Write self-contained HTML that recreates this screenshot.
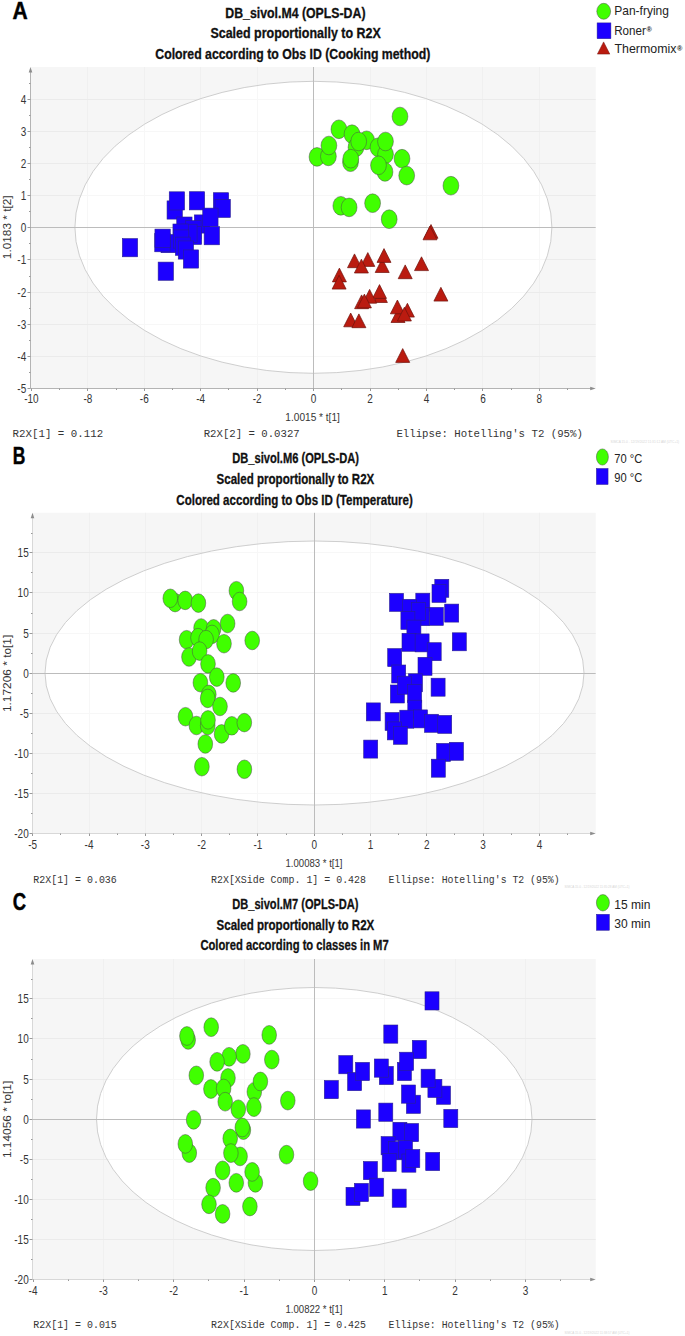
<!DOCTYPE html>
<html><head><meta charset="utf-8"><style>
html,body{margin:0;padding:0;background:#fff;}
svg{display:block;}

</style></head><body>
<svg width="685" height="1336" viewBox="0 0 685 1336">
<rect x="0" y="0" width="685" height="1336" fill="#fff"/>
<rect x="30.5" y="67" width="565.2" height="321.5" fill="#f6f6f6"/>
<line x1="87.5" y1="67" x2="87.5" y2="388.5" stroke="#f0f0f0" stroke-width="1"/>
<line x1="144.5" y1="67" x2="144.5" y2="388.5" stroke="#f0f0f0" stroke-width="1"/>
<line x1="200.5" y1="67" x2="200.5" y2="388.5" stroke="#f0f0f0" stroke-width="1"/>
<line x1="257.5" y1="67" x2="257.5" y2="388.5" stroke="#f0f0f0" stroke-width="1"/>
<line x1="370.5" y1="67" x2="370.5" y2="388.5" stroke="#f0f0f0" stroke-width="1"/>
<line x1="426.5" y1="67" x2="426.5" y2="388.5" stroke="#f0f0f0" stroke-width="1"/>
<line x1="482.5" y1="67" x2="482.5" y2="388.5" stroke="#f0f0f0" stroke-width="1"/>
<line x1="539.5" y1="67" x2="539.5" y2="388.5" stroke="#f0f0f0" stroke-width="1"/>
<line x1="30.5" y1="356.5" x2="595.7" y2="356.5" stroke="#ebebeb" stroke-width="1"/>
<line x1="30.5" y1="324.5" x2="595.7" y2="324.5" stroke="#ebebeb" stroke-width="1"/>
<line x1="30.5" y1="292.5" x2="595.7" y2="292.5" stroke="#ebebeb" stroke-width="1"/>
<line x1="30.5" y1="259.5" x2="595.7" y2="259.5" stroke="#ebebeb" stroke-width="1"/>
<line x1="30.5" y1="195.5" x2="595.7" y2="195.5" stroke="#ebebeb" stroke-width="1"/>
<line x1="30.5" y1="163.5" x2="595.7" y2="163.5" stroke="#ebebeb" stroke-width="1"/>
<line x1="30.5" y1="131.5" x2="595.7" y2="131.5" stroke="#ebebeb" stroke-width="1"/>
<line x1="30.5" y1="99.5" x2="595.7" y2="99.5" stroke="#ebebeb" stroke-width="1"/>
<clipPath id="cA"><ellipse cx="313.4" cy="227.3" rx="238.5" ry="146"/></clipPath>
<ellipse cx="313.4" cy="227.3" rx="238.5" ry="146" fill="#fff"/>
<g clip-path="url(#cA)">
<line x1="87.5" y1="67" x2="87.5" y2="388.5" stroke="#f7f7f7" stroke-width="1"/>
<line x1="144.5" y1="67" x2="144.5" y2="388.5" stroke="#f7f7f7" stroke-width="1"/>
<line x1="200.5" y1="67" x2="200.5" y2="388.5" stroke="#f7f7f7" stroke-width="1"/>
<line x1="257.5" y1="67" x2="257.5" y2="388.5" stroke="#f7f7f7" stroke-width="1"/>
<line x1="370.5" y1="67" x2="370.5" y2="388.5" stroke="#f7f7f7" stroke-width="1"/>
<line x1="426.5" y1="67" x2="426.5" y2="388.5" stroke="#f7f7f7" stroke-width="1"/>
<line x1="482.5" y1="67" x2="482.5" y2="388.5" stroke="#f7f7f7" stroke-width="1"/>
<line x1="539.5" y1="67" x2="539.5" y2="388.5" stroke="#f7f7f7" stroke-width="1"/>
<line x1="30.5" y1="356.5" x2="595.7" y2="356.5" stroke="#f7f7f7" stroke-width="1"/>
<line x1="30.5" y1="324.5" x2="595.7" y2="324.5" stroke="#f7f7f7" stroke-width="1"/>
<line x1="30.5" y1="292.5" x2="595.7" y2="292.5" stroke="#f7f7f7" stroke-width="1"/>
<line x1="30.5" y1="259.5" x2="595.7" y2="259.5" stroke="#f7f7f7" stroke-width="1"/>
<line x1="30.5" y1="195.5" x2="595.7" y2="195.5" stroke="#f7f7f7" stroke-width="1"/>
<line x1="30.5" y1="163.5" x2="595.7" y2="163.5" stroke="#f7f7f7" stroke-width="1"/>
<line x1="30.5" y1="131.5" x2="595.7" y2="131.5" stroke="#f7f7f7" stroke-width="1"/>
<line x1="30.5" y1="99.5" x2="595.7" y2="99.5" stroke="#f7f7f7" stroke-width="1"/>
</g>
<ellipse cx="313.4" cy="227.3" rx="238.5" ry="146" fill="none" stroke="#c8c8c8" stroke-width="0.9"/>
<line x1="313.5" y1="67" x2="313.5" y2="388.5" stroke="#bcbcbc" stroke-width="1"/>
<line x1="30.5" y1="227.5" x2="595.7" y2="227.5" stroke="#bcbcbc" stroke-width="1"/>
<rect x="122.35" y="238.60" width="15.3" height="18.2" fill="#1c00ff" stroke="#2a2090" stroke-width="0.6"/>
<rect x="167.05" y="200.90" width="15.3" height="18.2" fill="#1c00ff" stroke="#2a2090" stroke-width="0.6"/>
<rect x="169.25" y="191.80" width="15.3" height="18.2" fill="#1c00ff" stroke="#2a2090" stroke-width="0.6"/>
<rect x="189.35" y="191.70" width="15.3" height="18.2" fill="#1c00ff" stroke="#2a2090" stroke-width="0.6"/>
<rect x="213.35" y="192.70" width="15.3" height="18.2" fill="#1c00ff" stroke="#2a2090" stroke-width="0.6"/>
<rect x="215.05" y="199.30" width="15.3" height="18.2" fill="#1c00ff" stroke="#2a2090" stroke-width="0.6"/>
<rect x="194.35" y="214.90" width="15.3" height="18.2" fill="#1c00ff" stroke="#2a2090" stroke-width="0.6"/>
<rect x="202.75" y="208.10" width="15.3" height="18.2" fill="#1c00ff" stroke="#2a2090" stroke-width="0.6"/>
<rect x="176.75" y="217.00" width="15.3" height="18.2" fill="#1c00ff" stroke="#2a2090" stroke-width="0.6"/>
<rect x="185.75" y="220.60" width="15.3" height="18.2" fill="#1c00ff" stroke="#2a2090" stroke-width="0.6"/>
<rect x="186.35" y="226.30" width="15.3" height="18.2" fill="#1c00ff" stroke="#2a2090" stroke-width="0.6"/>
<rect x="181.75" y="224.20" width="15.3" height="18.2" fill="#1c00ff" stroke="#2a2090" stroke-width="0.6"/>
<rect x="172.95" y="224.00" width="15.3" height="18.2" fill="#1c00ff" stroke="#2a2090" stroke-width="0.6"/>
<rect x="204.15" y="226.60" width="15.3" height="18.2" fill="#1c00ff" stroke="#2a2090" stroke-width="0.6"/>
<rect x="161.05" y="234.50" width="15.3" height="18.2" fill="#1c00ff" stroke="#2a2090" stroke-width="0.6"/>
<rect x="154.75" y="233.60" width="15.3" height="18.2" fill="#1c00ff" stroke="#2a2090" stroke-width="0.6"/>
<rect x="154.95" y="229.10" width="15.3" height="18.2" fill="#1c00ff" stroke="#2a2090" stroke-width="0.6"/>
<rect x="173.55" y="229.90" width="15.3" height="18.2" fill="#1c00ff" stroke="#2a2090" stroke-width="0.6"/>
<rect x="175.35" y="237.10" width="15.3" height="18.2" fill="#1c00ff" stroke="#2a2090" stroke-width="0.6"/>
<rect x="178.25" y="240.90" width="15.3" height="18.2" fill="#1c00ff" stroke="#2a2090" stroke-width="0.6"/>
<rect x="183.35" y="249.90" width="15.3" height="18.2" fill="#1c00ff" stroke="#2a2090" stroke-width="0.6"/>
<rect x="158.15" y="262.10" width="15.3" height="18.2" fill="#1c00ff" stroke="#2a2090" stroke-width="0.6"/>
<ellipse cx="400" cy="116.5" rx="7.9" ry="9.35" fill="#40ff00" stroke="#4a4a4a" stroke-width="0.5"/>
<ellipse cx="338.9" cy="129.3" rx="7.9" ry="9.35" fill="#40ff00" stroke="#4a4a4a" stroke-width="0.5"/>
<ellipse cx="352" cy="134.2" rx="7.9" ry="9.35" fill="#40ff00" stroke="#4a4a4a" stroke-width="0.5"/>
<ellipse cx="356" cy="147.3" rx="7.9" ry="9.35" fill="#40ff00" stroke="#4a4a4a" stroke-width="0.5"/>
<ellipse cx="366.6" cy="140.3" rx="7.9" ry="9.35" fill="#40ff00" stroke="#4a4a4a" stroke-width="0.5"/>
<ellipse cx="358.7" cy="141.5" rx="7.9" ry="9.35" fill="#40ff00" stroke="#4a4a4a" stroke-width="0.5"/>
<ellipse cx="378" cy="147.3" rx="7.9" ry="9.35" fill="#40ff00" stroke="#4a4a4a" stroke-width="0.5"/>
<ellipse cx="385.5" cy="154.3" rx="7.9" ry="9.35" fill="#40ff00" stroke="#4a4a4a" stroke-width="0.5"/>
<ellipse cx="385.5" cy="141.5" rx="7.9" ry="9.35" fill="#40ff00" stroke="#4a4a4a" stroke-width="0.5"/>
<ellipse cx="317" cy="156.9" rx="7.9" ry="9.35" fill="#40ff00" stroke="#4a4a4a" stroke-width="0.5"/>
<ellipse cx="328.4" cy="156.4" rx="7.9" ry="9.35" fill="#40ff00" stroke="#4a4a4a" stroke-width="0.5"/>
<ellipse cx="328.9" cy="145.5" rx="7.9" ry="9.35" fill="#40ff00" stroke="#4a4a4a" stroke-width="0.5"/>
<ellipse cx="350.5" cy="162.2" rx="7.9" ry="9.35" fill="#40ff00" stroke="#4a4a4a" stroke-width="0.5"/>
<ellipse cx="350.8" cy="158.7" rx="7.9" ry="9.35" fill="#40ff00" stroke="#4a4a4a" stroke-width="0.5"/>
<ellipse cx="385" cy="171.9" rx="7.9" ry="9.35" fill="#40ff00" stroke="#4a4a4a" stroke-width="0.5"/>
<ellipse cx="378.5" cy="165.3" rx="7.9" ry="9.35" fill="#40ff00" stroke="#4a4a4a" stroke-width="0.5"/>
<ellipse cx="402" cy="158.7" rx="7.9" ry="9.35" fill="#40ff00" stroke="#4a4a4a" stroke-width="0.5"/>
<ellipse cx="406.7" cy="175.6" rx="7.9" ry="9.35" fill="#40ff00" stroke="#4a4a4a" stroke-width="0.5"/>
<ellipse cx="450.9" cy="185.7" rx="7.9" ry="9.35" fill="#40ff00" stroke="#4a4a4a" stroke-width="0.5"/>
<ellipse cx="340.8" cy="205.8" rx="7.9" ry="9.35" fill="#40ff00" stroke="#4a4a4a" stroke-width="0.5"/>
<ellipse cx="349.1" cy="207.4" rx="7.9" ry="9.35" fill="#40ff00" stroke="#4a4a4a" stroke-width="0.5"/>
<ellipse cx="372.6" cy="203.2" rx="7.9" ry="9.35" fill="#40ff00" stroke="#4a4a4a" stroke-width="0.5"/>
<ellipse cx="389.2" cy="219.2" rx="7.9" ry="9.35" fill="#40ff00" stroke="#4a4a4a" stroke-width="0.5"/>
<path d="M431.00,224.50 L438.00,238.30 L424.00,238.30 Z" fill="#ba1b10" stroke="#70120c" stroke-width="0.7"/>
<path d="M430.00,226.00 L437.00,239.80 L423.00,239.80 Z" fill="#ba1b10" stroke="#70120c" stroke-width="0.7"/>
<path d="M354.50,253.90 L361.50,267.70 L347.50,267.70 Z" fill="#ba1b10" stroke="#70120c" stroke-width="0.7"/>
<path d="M367.80,252.60 L374.80,266.40 L360.80,266.40 Z" fill="#ba1b10" stroke="#70120c" stroke-width="0.7"/>
<path d="M361.40,259.20 L368.40,273.00 L354.40,273.00 Z" fill="#ba1b10" stroke="#70120c" stroke-width="0.7"/>
<path d="M382.20,258.70 L389.20,272.50 L375.20,272.50 Z" fill="#ba1b10" stroke="#70120c" stroke-width="0.7"/>
<path d="M384.00,248.60 L391.00,262.40 L377.00,262.40 Z" fill="#ba1b10" stroke="#70120c" stroke-width="0.7"/>
<path d="M421.50,256.80 L428.50,270.60 L414.50,270.60 Z" fill="#ba1b10" stroke="#70120c" stroke-width="0.7"/>
<path d="M405.20,264.90 L412.20,278.70 L398.20,278.70 Z" fill="#ba1b10" stroke="#70120c" stroke-width="0.7"/>
<path d="M339.40,268.10 L346.40,281.90 L332.40,281.90 Z" fill="#ba1b10" stroke="#70120c" stroke-width="0.7"/>
<path d="M339.10,275.30 L346.10,289.10 L332.10,289.10 Z" fill="#ba1b10" stroke="#70120c" stroke-width="0.7"/>
<path d="M380.40,288.70 L387.40,302.50 L373.40,302.50 Z" fill="#ba1b10" stroke="#70120c" stroke-width="0.7"/>
<path d="M379.50,284.60 L386.50,298.40 L372.50,298.40 Z" fill="#ba1b10" stroke="#70120c" stroke-width="0.7"/>
<path d="M369.60,289.40 L376.60,303.20 L362.60,303.20 Z" fill="#ba1b10" stroke="#70120c" stroke-width="0.7"/>
<path d="M361.60,294.90 L368.60,308.70 L354.60,308.70 Z" fill="#ba1b10" stroke="#70120c" stroke-width="0.7"/>
<path d="M364.40,294.10 L371.40,307.90 L357.40,307.90 Z" fill="#ba1b10" stroke="#70120c" stroke-width="0.7"/>
<path d="M440.90,287.30 L447.90,301.10 L433.90,301.10 Z" fill="#ba1b10" stroke="#70120c" stroke-width="0.7"/>
<path d="M398.00,308.70 L405.00,322.50 L391.00,322.50 Z" fill="#ba1b10" stroke="#70120c" stroke-width="0.7"/>
<path d="M397.40,300.00 L404.40,313.80 L390.40,313.80 Z" fill="#ba1b10" stroke="#70120c" stroke-width="0.7"/>
<path d="M407.40,303.30 L414.40,317.10 L400.40,317.10 Z" fill="#ba1b10" stroke="#70120c" stroke-width="0.7"/>
<path d="M404.40,307.20 L411.40,321.00 L397.40,321.00 Z" fill="#ba1b10" stroke="#70120c" stroke-width="0.7"/>
<path d="M350.70,313.00 L357.70,326.80 L343.70,326.80 Z" fill="#ba1b10" stroke="#70120c" stroke-width="0.7"/>
<path d="M358.90,313.90 L365.90,327.70 L351.90,327.70 Z" fill="#ba1b10" stroke="#70120c" stroke-width="0.7"/>
<path d="M402.70,348.60 L409.70,362.40 L395.70,362.40 Z" fill="#ba1b10" stroke="#70120c" stroke-width="0.7"/>
<line x1="30.5" y1="388.5" x2="591.7" y2="388.5" stroke="#b4b4b4" stroke-width="1"/>
<path d="M595.7,388.5 L590.2,386.7 L590.2,390.3 Z" fill="#8c8c8c"/>
<line x1="30.5" y1="388.5" x2="30.5" y2="71" stroke="#b4b4b4" stroke-width="1"/>
<path d="M30.5,67 L28.7,72.5 L32.3,72.5 Z" fill="#8c8c8c"/>
<line x1="31.5" y1="388.5" x2="31.5" y2="391.0" stroke="#999999" stroke-width="1"/>
<line x1="87.5" y1="388.5" x2="87.5" y2="391.0" stroke="#999999" stroke-width="1"/>
<line x1="144.5" y1="388.5" x2="144.5" y2="391.0" stroke="#999999" stroke-width="1"/>
<line x1="200.5" y1="388.5" x2="200.5" y2="391.0" stroke="#999999" stroke-width="1"/>
<line x1="257.5" y1="388.5" x2="257.5" y2="391.0" stroke="#999999" stroke-width="1"/>
<line x1="313.5" y1="388.5" x2="313.5" y2="391.0" stroke="#999999" stroke-width="1"/>
<line x1="370.5" y1="388.5" x2="370.5" y2="391.0" stroke="#999999" stroke-width="1"/>
<line x1="426.5" y1="388.5" x2="426.5" y2="391.0" stroke="#999999" stroke-width="1"/>
<line x1="482.5" y1="388.5" x2="482.5" y2="391.0" stroke="#999999" stroke-width="1"/>
<line x1="539.5" y1="388.5" x2="539.5" y2="391.0" stroke="#999999" stroke-width="1"/>
<line x1="59.5" y1="388.5" x2="59.5" y2="390.0" stroke="#999999" stroke-width="1"/>
<line x1="116.5" y1="388.5" x2="116.5" y2="390.0" stroke="#999999" stroke-width="1"/>
<line x1="172.5" y1="388.5" x2="172.5" y2="390.0" stroke="#999999" stroke-width="1"/>
<line x1="228.5" y1="388.5" x2="228.5" y2="390.0" stroke="#999999" stroke-width="1"/>
<line x1="285.5" y1="388.5" x2="285.5" y2="390.0" stroke="#999999" stroke-width="1"/>
<line x1="341.5" y1="388.5" x2="341.5" y2="390.0" stroke="#999999" stroke-width="1"/>
<line x1="398.5" y1="388.5" x2="398.5" y2="390.0" stroke="#999999" stroke-width="1"/>
<line x1="454.5" y1="388.5" x2="454.5" y2="390.0" stroke="#999999" stroke-width="1"/>
<line x1="511.5" y1="388.5" x2="511.5" y2="390.0" stroke="#999999" stroke-width="1"/>
<line x1="567.5" y1="388.5" x2="567.5" y2="390.0" stroke="#999999" stroke-width="1"/>
<line x1="27.5" y1="388.5" x2="30.5" y2="388.5" stroke="#999999" stroke-width="1"/>
<line x1="27.5" y1="356.5" x2="30.5" y2="356.5" stroke="#999999" stroke-width="1"/>
<line x1="27.5" y1="324.5" x2="30.5" y2="324.5" stroke="#999999" stroke-width="1"/>
<line x1="27.5" y1="292.5" x2="30.5" y2="292.5" stroke="#999999" stroke-width="1"/>
<line x1="27.5" y1="259.5" x2="30.5" y2="259.5" stroke="#999999" stroke-width="1"/>
<line x1="27.5" y1="227.5" x2="30.5" y2="227.5" stroke="#999999" stroke-width="1"/>
<line x1="27.5" y1="195.5" x2="30.5" y2="195.5" stroke="#999999" stroke-width="1"/>
<line x1="27.5" y1="163.5" x2="30.5" y2="163.5" stroke="#999999" stroke-width="1"/>
<line x1="27.5" y1="131.5" x2="30.5" y2="131.5" stroke="#999999" stroke-width="1"/>
<line x1="27.5" y1="99.5" x2="30.5" y2="99.5" stroke="#999999" stroke-width="1"/>
<line x1="29.0" y1="372.5" x2="30.5" y2="372.5" stroke="#999999" stroke-width="1"/>
<line x1="29.0" y1="340.5" x2="30.5" y2="340.5" stroke="#999999" stroke-width="1"/>
<line x1="29.0" y1="308.5" x2="30.5" y2="308.5" stroke="#999999" stroke-width="1"/>
<line x1="29.0" y1="276.5" x2="30.5" y2="276.5" stroke="#999999" stroke-width="1"/>
<line x1="29.0" y1="243.5" x2="30.5" y2="243.5" stroke="#999999" stroke-width="1"/>
<line x1="29.0" y1="211.5" x2="30.5" y2="211.5" stroke="#999999" stroke-width="1"/>
<line x1="29.0" y1="179.5" x2="30.5" y2="179.5" stroke="#999999" stroke-width="1"/>
<line x1="29.0" y1="147.5" x2="30.5" y2="147.5" stroke="#999999" stroke-width="1"/>
<line x1="29.0" y1="115.5" x2="30.5" y2="115.5" stroke="#999999" stroke-width="1"/>
<line x1="29.0" y1="83.5" x2="30.5" y2="83.5" stroke="#999999" stroke-width="1"/>
<text transform="translate(31.40,403.4) scale(1,1.2)" x="0" y="0" font-family="Liberation Sans" font-size="10" font-weight="normal" text-anchor="middle" fill="#353535">-10</text>
<text transform="translate(87.84,403.4) scale(1,1.2)" x="0" y="0" font-family="Liberation Sans" font-size="10" font-weight="normal" text-anchor="middle" fill="#353535">-8</text>
<text transform="translate(144.28,403.4) scale(1,1.2)" x="0" y="0" font-family="Liberation Sans" font-size="10" font-weight="normal" text-anchor="middle" fill="#353535">-6</text>
<text transform="translate(200.72,403.4) scale(1,1.2)" x="0" y="0" font-family="Liberation Sans" font-size="10" font-weight="normal" text-anchor="middle" fill="#353535">-4</text>
<text transform="translate(257.16,403.4) scale(1,1.2)" x="0" y="0" font-family="Liberation Sans" font-size="10" font-weight="normal" text-anchor="middle" fill="#353535">-2</text>
<text transform="translate(313.60,403.4) scale(1,1.2)" x="0" y="0" font-family="Liberation Sans" font-size="10" font-weight="normal" text-anchor="middle" fill="#353535">0</text>
<text transform="translate(370.04,403.4) scale(1,1.2)" x="0" y="0" font-family="Liberation Sans" font-size="10" font-weight="normal" text-anchor="middle" fill="#353535">2</text>
<text transform="translate(426.48,403.4) scale(1,1.2)" x="0" y="0" font-family="Liberation Sans" font-size="10" font-weight="normal" text-anchor="middle" fill="#353535">4</text>
<text transform="translate(482.92,403.4) scale(1,1.2)" x="0" y="0" font-family="Liberation Sans" font-size="10" font-weight="normal" text-anchor="middle" fill="#353535">6</text>
<text transform="translate(539.36,403.4) scale(1,1.2)" x="0" y="0" font-family="Liberation Sans" font-size="10" font-weight="normal" text-anchor="middle" fill="#353535">8</text>
<text transform="translate(26.2,392.80) scale(1,1.2)" x="0" y="0" font-family="Liberation Sans" font-size="10" font-weight="normal" text-anchor="end" fill="#353535">-5</text>
<text transform="translate(26.2,360.80) scale(1,1.2)" x="0" y="0" font-family="Liberation Sans" font-size="10" font-weight="normal" text-anchor="end" fill="#353535">-4</text>
<text transform="translate(26.2,328.80) scale(1,1.2)" x="0" y="0" font-family="Liberation Sans" font-size="10" font-weight="normal" text-anchor="end" fill="#353535">-3</text>
<text transform="translate(26.2,296.80) scale(1,1.2)" x="0" y="0" font-family="Liberation Sans" font-size="10" font-weight="normal" text-anchor="end" fill="#353535">-2</text>
<text transform="translate(26.2,263.80) scale(1,1.2)" x="0" y="0" font-family="Liberation Sans" font-size="10" font-weight="normal" text-anchor="end" fill="#353535">-1</text>
<text transform="translate(26.2,231.80) scale(1,1.2)" x="0" y="0" font-family="Liberation Sans" font-size="10" font-weight="normal" text-anchor="end" fill="#353535">0</text>
<text transform="translate(26.2,199.80) scale(1,1.2)" x="0" y="0" font-family="Liberation Sans" font-size="10" font-weight="normal" text-anchor="end" fill="#353535">1</text>
<text transform="translate(26.2,167.80) scale(1,1.2)" x="0" y="0" font-family="Liberation Sans" font-size="10" font-weight="normal" text-anchor="end" fill="#353535">2</text>
<text transform="translate(26.2,135.80) scale(1,1.2)" x="0" y="0" font-family="Liberation Sans" font-size="10" font-weight="normal" text-anchor="end" fill="#353535">3</text>
<text transform="translate(26.2,103.80) scale(1,1.2)" x="0" y="0" font-family="Liberation Sans" font-size="10" font-weight="normal" text-anchor="end" fill="#353535">4</text>
<rect x="32.5" y="512.8" width="563.2" height="320.70000000000005" fill="#f6f6f6"/>
<line x1="89.5" y1="512.8" x2="89.5" y2="833.5" stroke="#f0f0f0" stroke-width="1"/>
<line x1="145.5" y1="512.8" x2="145.5" y2="833.5" stroke="#f0f0f0" stroke-width="1"/>
<line x1="201.5" y1="512.8" x2="201.5" y2="833.5" stroke="#f0f0f0" stroke-width="1"/>
<line x1="257.5" y1="512.8" x2="257.5" y2="833.5" stroke="#f0f0f0" stroke-width="1"/>
<line x1="370.5" y1="512.8" x2="370.5" y2="833.5" stroke="#f0f0f0" stroke-width="1"/>
<line x1="426.5" y1="512.8" x2="426.5" y2="833.5" stroke="#f0f0f0" stroke-width="1"/>
<line x1="483.5" y1="512.8" x2="483.5" y2="833.5" stroke="#f0f0f0" stroke-width="1"/>
<line x1="539.5" y1="512.8" x2="539.5" y2="833.5" stroke="#f0f0f0" stroke-width="1"/>
<line x1="32.5" y1="793.5" x2="595.7" y2="793.5" stroke="#ebebeb" stroke-width="1"/>
<line x1="32.5" y1="753.5" x2="595.7" y2="753.5" stroke="#ebebeb" stroke-width="1"/>
<line x1="32.5" y1="713.5" x2="595.7" y2="713.5" stroke="#ebebeb" stroke-width="1"/>
<line x1="32.5" y1="633.5" x2="595.7" y2="633.5" stroke="#ebebeb" stroke-width="1"/>
<line x1="32.5" y1="592.5" x2="595.7" y2="592.5" stroke="#ebebeb" stroke-width="1"/>
<line x1="32.5" y1="552.5" x2="595.7" y2="552.5" stroke="#ebebeb" stroke-width="1"/>
<clipPath id="cB"><ellipse cx="314.5" cy="673" rx="269.5" ry="132"/></clipPath>
<ellipse cx="314.5" cy="673" rx="269.5" ry="132" fill="#fff"/>
<g clip-path="url(#cB)">
<line x1="89.5" y1="512.8" x2="89.5" y2="833.5" stroke="#f7f7f7" stroke-width="1"/>
<line x1="145.5" y1="512.8" x2="145.5" y2="833.5" stroke="#f7f7f7" stroke-width="1"/>
<line x1="201.5" y1="512.8" x2="201.5" y2="833.5" stroke="#f7f7f7" stroke-width="1"/>
<line x1="257.5" y1="512.8" x2="257.5" y2="833.5" stroke="#f7f7f7" stroke-width="1"/>
<line x1="370.5" y1="512.8" x2="370.5" y2="833.5" stroke="#f7f7f7" stroke-width="1"/>
<line x1="426.5" y1="512.8" x2="426.5" y2="833.5" stroke="#f7f7f7" stroke-width="1"/>
<line x1="483.5" y1="512.8" x2="483.5" y2="833.5" stroke="#f7f7f7" stroke-width="1"/>
<line x1="539.5" y1="512.8" x2="539.5" y2="833.5" stroke="#f7f7f7" stroke-width="1"/>
<line x1="32.5" y1="793.5" x2="595.7" y2="793.5" stroke="#f7f7f7" stroke-width="1"/>
<line x1="32.5" y1="753.5" x2="595.7" y2="753.5" stroke="#f7f7f7" stroke-width="1"/>
<line x1="32.5" y1="713.5" x2="595.7" y2="713.5" stroke="#f7f7f7" stroke-width="1"/>
<line x1="32.5" y1="633.5" x2="595.7" y2="633.5" stroke="#f7f7f7" stroke-width="1"/>
<line x1="32.5" y1="592.5" x2="595.7" y2="592.5" stroke="#f7f7f7" stroke-width="1"/>
<line x1="32.5" y1="552.5" x2="595.7" y2="552.5" stroke="#f7f7f7" stroke-width="1"/>
</g>
<ellipse cx="314.5" cy="673" rx="269.5" ry="132" fill="none" stroke="#c8c8c8" stroke-width="0.9"/>
<line x1="314.5" y1="512.8" x2="314.5" y2="833.5" stroke="#bcbcbc" stroke-width="1"/>
<line x1="32.5" y1="673.5" x2="595.7" y2="673.5" stroke="#bcbcbc" stroke-width="1"/>
<ellipse cx="175.1" cy="602.6" rx="7.35" ry="9.3" fill="#40ff00" stroke="#4a4a4a" stroke-width="0.5"/>
<ellipse cx="170.3" cy="598.3" rx="7.35" ry="9.3" fill="#40ff00" stroke="#4a4a4a" stroke-width="0.5"/>
<ellipse cx="185.2" cy="600.4" rx="7.35" ry="9.3" fill="#40ff00" stroke="#4a4a4a" stroke-width="0.5"/>
<ellipse cx="198.4" cy="603.1" rx="7.35" ry="9.3" fill="#40ff00" stroke="#4a4a4a" stroke-width="0.5"/>
<ellipse cx="236.4" cy="590.7" rx="7.35" ry="9.3" fill="#40ff00" stroke="#4a4a4a" stroke-width="0.5"/>
<ellipse cx="239.6" cy="601.5" rx="7.35" ry="9.3" fill="#40ff00" stroke="#4a4a4a" stroke-width="0.5"/>
<ellipse cx="227.6" cy="623.5" rx="7.35" ry="9.3" fill="#40ff00" stroke="#4a4a4a" stroke-width="0.5"/>
<ellipse cx="252.2" cy="640.5" rx="7.35" ry="9.3" fill="#40ff00" stroke="#4a4a4a" stroke-width="0.5"/>
<ellipse cx="201.1" cy="628" rx="7.35" ry="9.3" fill="#40ff00" stroke="#4a4a4a" stroke-width="0.5"/>
<ellipse cx="213.6" cy="628.8" rx="7.35" ry="9.3" fill="#40ff00" stroke="#4a4a4a" stroke-width="0.5"/>
<ellipse cx="212" cy="634.4" rx="7.35" ry="9.3" fill="#40ff00" stroke="#4a4a4a" stroke-width="0.5"/>
<ellipse cx="186.6" cy="639.7" rx="7.35" ry="9.3" fill="#40ff00" stroke="#4a4a4a" stroke-width="0.5"/>
<ellipse cx="198" cy="637.6" rx="7.35" ry="9.3" fill="#40ff00" stroke="#4a4a4a" stroke-width="0.5"/>
<ellipse cx="206.1" cy="639.6" rx="7.35" ry="9.3" fill="#40ff00" stroke="#4a4a4a" stroke-width="0.5"/>
<ellipse cx="224" cy="643.7" rx="7.35" ry="9.3" fill="#40ff00" stroke="#4a4a4a" stroke-width="0.5"/>
<ellipse cx="189" cy="657" rx="7.35" ry="9.3" fill="#40ff00" stroke="#4a4a4a" stroke-width="0.5"/>
<ellipse cx="199.6" cy="651.1" rx="7.35" ry="9.3" fill="#40ff00" stroke="#4a4a4a" stroke-width="0.5"/>
<ellipse cx="208" cy="663.9" rx="7.35" ry="9.3" fill="#40ff00" stroke="#4a4a4a" stroke-width="0.5"/>
<ellipse cx="216.8" cy="677.1" rx="7.35" ry="9.3" fill="#40ff00" stroke="#4a4a4a" stroke-width="0.5"/>
<ellipse cx="200.4" cy="682.7" rx="7.35" ry="9.3" fill="#40ff00" stroke="#4a4a4a" stroke-width="0.5"/>
<ellipse cx="233.2" cy="682.9" rx="7.35" ry="9.3" fill="#40ff00" stroke="#4a4a4a" stroke-width="0.5"/>
<ellipse cx="208.8" cy="694.4" rx="7.35" ry="9.3" fill="#40ff00" stroke="#4a4a4a" stroke-width="0.5"/>
<ellipse cx="207.7" cy="698.4" rx="7.35" ry="9.3" fill="#40ff00" stroke="#4a4a4a" stroke-width="0.5"/>
<ellipse cx="220" cy="706.5" rx="7.35" ry="9.3" fill="#40ff00" stroke="#4a4a4a" stroke-width="0.5"/>
<ellipse cx="185.5" cy="716.7" rx="7.35" ry="9.3" fill="#40ff00" stroke="#4a4a4a" stroke-width="0.5"/>
<ellipse cx="196.4" cy="725.5" rx="7.35" ry="9.3" fill="#40ff00" stroke="#4a4a4a" stroke-width="0.5"/>
<ellipse cx="207.7" cy="725.5" rx="7.35" ry="9.3" fill="#40ff00" stroke="#4a4a4a" stroke-width="0.5"/>
<ellipse cx="208" cy="719.9" rx="7.35" ry="9.3" fill="#40ff00" stroke="#4a4a4a" stroke-width="0.5"/>
<ellipse cx="221.6" cy="733.9" rx="7.35" ry="9.3" fill="#40ff00" stroke="#4a4a4a" stroke-width="0.5"/>
<ellipse cx="231.8" cy="725.8" rx="7.35" ry="9.3" fill="#40ff00" stroke="#4a4a4a" stroke-width="0.5"/>
<ellipse cx="244.3" cy="722.6" rx="7.35" ry="9.3" fill="#40ff00" stroke="#4a4a4a" stroke-width="0.5"/>
<ellipse cx="205.3" cy="744" rx="7.35" ry="9.3" fill="#40ff00" stroke="#4a4a4a" stroke-width="0.5"/>
<ellipse cx="201.9" cy="766.7" rx="7.35" ry="9.3" fill="#40ff00" stroke="#4a4a4a" stroke-width="0.5"/>
<ellipse cx="244.4" cy="769.3" rx="7.35" ry="9.3" fill="#40ff00" stroke="#4a4a4a" stroke-width="0.5"/>
<rect x="434.80" y="579.30" width="14.0" height="18.0" fill="#1c00ff" stroke="#2a2090" stroke-width="0.6"/>
<rect x="432.00" y="584.40" width="14.0" height="18.0" fill="#1c00ff" stroke="#2a2090" stroke-width="0.6"/>
<rect x="389.50" y="593.40" width="14.0" height="18.0" fill="#1c00ff" stroke="#2a2090" stroke-width="0.6"/>
<rect x="415.80" y="593.20" width="14.0" height="18.0" fill="#1c00ff" stroke="#2a2090" stroke-width="0.6"/>
<rect x="402.60" y="599.30" width="14.0" height="18.0" fill="#1c00ff" stroke="#2a2090" stroke-width="0.6"/>
<rect x="415.20" y="607.70" width="14.0" height="18.0" fill="#1c00ff" stroke="#2a2090" stroke-width="0.6"/>
<rect x="411.40" y="602.30" width="14.0" height="18.0" fill="#1c00ff" stroke="#2a2090" stroke-width="0.6"/>
<rect x="429.30" y="607.40" width="14.0" height="18.0" fill="#1c00ff" stroke="#2a2090" stroke-width="0.6"/>
<rect x="444.70" y="604.10" width="14.0" height="18.0" fill="#1c00ff" stroke="#2a2090" stroke-width="0.6"/>
<rect x="400.90" y="611.40" width="14.0" height="18.0" fill="#1c00ff" stroke="#2a2090" stroke-width="0.6"/>
<rect x="406.90" y="620.10" width="14.0" height="18.0" fill="#1c00ff" stroke="#2a2090" stroke-width="0.6"/>
<rect x="402.00" y="633.30" width="14.0" height="18.0" fill="#1c00ff" stroke="#2a2090" stroke-width="0.6"/>
<rect x="415.10" y="633.90" width="14.0" height="18.0" fill="#1c00ff" stroke="#2a2090" stroke-width="0.6"/>
<rect x="427.20" y="642.70" width="14.0" height="18.0" fill="#1c00ff" stroke="#2a2090" stroke-width="0.6"/>
<rect x="452.30" y="632.80" width="14.0" height="18.0" fill="#1c00ff" stroke="#2a2090" stroke-width="0.6"/>
<rect x="387.70" y="648.60" width="14.0" height="18.0" fill="#1c00ff" stroke="#2a2090" stroke-width="0.6"/>
<rect x="418.00" y="657.30" width="14.0" height="18.0" fill="#1c00ff" stroke="#2a2090" stroke-width="0.6"/>
<rect x="391.70" y="665.00" width="14.0" height="18.0" fill="#1c00ff" stroke="#2a2090" stroke-width="0.6"/>
<rect x="408.50" y="673.80" width="14.0" height="18.0" fill="#1c00ff" stroke="#2a2090" stroke-width="0.6"/>
<rect x="390.40" y="685.00" width="14.0" height="18.0" fill="#1c00ff" stroke="#2a2090" stroke-width="0.6"/>
<rect x="397.50" y="676.20" width="14.0" height="18.0" fill="#1c00ff" stroke="#2a2090" stroke-width="0.6"/>
<rect x="431.10" y="678.20" width="14.0" height="18.0" fill="#1c00ff" stroke="#2a2090" stroke-width="0.6"/>
<rect x="407.60" y="684.60" width="14.0" height="18.0" fill="#1c00ff" stroke="#2a2090" stroke-width="0.6"/>
<rect x="407.80" y="700.20" width="14.0" height="18.0" fill="#1c00ff" stroke="#2a2090" stroke-width="0.6"/>
<rect x="366.30" y="702.90" width="14.0" height="18.0" fill="#1c00ff" stroke="#2a2090" stroke-width="0.6"/>
<rect x="385.10" y="712.50" width="14.0" height="18.0" fill="#1c00ff" stroke="#2a2090" stroke-width="0.6"/>
<rect x="399.80" y="710.20" width="14.0" height="18.0" fill="#1c00ff" stroke="#2a2090" stroke-width="0.6"/>
<rect x="413.50" y="709.90" width="14.0" height="18.0" fill="#1c00ff" stroke="#2a2090" stroke-width="0.6"/>
<rect x="424.50" y="714.30" width="14.0" height="18.0" fill="#1c00ff" stroke="#2a2090" stroke-width="0.6"/>
<rect x="437.70" y="715.40" width="14.0" height="18.0" fill="#1c00ff" stroke="#2a2090" stroke-width="0.6"/>
<rect x="387.30" y="721.90" width="14.0" height="18.0" fill="#1c00ff" stroke="#2a2090" stroke-width="0.6"/>
<rect x="393.40" y="726.30" width="14.0" height="18.0" fill="#1c00ff" stroke="#2a2090" stroke-width="0.6"/>
<rect x="363.70" y="740.10" width="14.0" height="18.0" fill="#1c00ff" stroke="#2a2090" stroke-width="0.6"/>
<rect x="436.60" y="743.40" width="14.0" height="18.0" fill="#1c00ff" stroke="#2a2090" stroke-width="0.6"/>
<rect x="449.50" y="742.30" width="14.0" height="18.0" fill="#1c00ff" stroke="#2a2090" stroke-width="0.6"/>
<rect x="431.30" y="759.20" width="14.0" height="18.0" fill="#1c00ff" stroke="#2a2090" stroke-width="0.6"/>
<line x1="32.5" y1="833.5" x2="591.7" y2="833.5" stroke="#d8d8d8" stroke-width="1"/>
<path d="M595.7,833.5 L590.2,831.7 L590.2,835.3 Z" fill="#8c8c8c"/>
<line x1="32.5" y1="833.5" x2="32.5" y2="516.8" stroke="#d8d8d8" stroke-width="1"/>
<path d="M32.5,512.8 L30.7,518.3 L34.3,518.3 Z" fill="#8c8c8c"/>
<line x1="32.5" y1="833.5" x2="32.5" y2="836.0" stroke="#999999" stroke-width="1"/>
<line x1="89.5" y1="833.5" x2="89.5" y2="836.0" stroke="#999999" stroke-width="1"/>
<line x1="145.5" y1="833.5" x2="145.5" y2="836.0" stroke="#999999" stroke-width="1"/>
<line x1="201.5" y1="833.5" x2="201.5" y2="836.0" stroke="#999999" stroke-width="1"/>
<line x1="257.5" y1="833.5" x2="257.5" y2="836.0" stroke="#999999" stroke-width="1"/>
<line x1="314.5" y1="833.5" x2="314.5" y2="836.0" stroke="#999999" stroke-width="1"/>
<line x1="370.5" y1="833.5" x2="370.5" y2="836.0" stroke="#999999" stroke-width="1"/>
<line x1="426.5" y1="833.5" x2="426.5" y2="836.0" stroke="#999999" stroke-width="1"/>
<line x1="483.5" y1="833.5" x2="483.5" y2="836.0" stroke="#999999" stroke-width="1"/>
<line x1="539.5" y1="833.5" x2="539.5" y2="836.0" stroke="#999999" stroke-width="1"/>
<line x1="60.5" y1="833.5" x2="60.5" y2="835.0" stroke="#999999" stroke-width="1"/>
<line x1="117.5" y1="833.5" x2="117.5" y2="835.0" stroke="#999999" stroke-width="1"/>
<line x1="173.5" y1="833.5" x2="173.5" y2="835.0" stroke="#999999" stroke-width="1"/>
<line x1="229.5" y1="833.5" x2="229.5" y2="835.0" stroke="#999999" stroke-width="1"/>
<line x1="286.5" y1="833.5" x2="286.5" y2="835.0" stroke="#999999" stroke-width="1"/>
<line x1="342.5" y1="833.5" x2="342.5" y2="835.0" stroke="#999999" stroke-width="1"/>
<line x1="398.5" y1="833.5" x2="398.5" y2="835.0" stroke="#999999" stroke-width="1"/>
<line x1="454.5" y1="833.5" x2="454.5" y2="835.0" stroke="#999999" stroke-width="1"/>
<line x1="511.5" y1="833.5" x2="511.5" y2="835.0" stroke="#999999" stroke-width="1"/>
<line x1="567.5" y1="833.5" x2="567.5" y2="835.0" stroke="#999999" stroke-width="1"/>
<line x1="29.5" y1="833.5" x2="32.5" y2="833.5" stroke="#999999" stroke-width="1"/>
<line x1="29.5" y1="793.5" x2="32.5" y2="793.5" stroke="#999999" stroke-width="1"/>
<line x1="29.5" y1="753.5" x2="32.5" y2="753.5" stroke="#999999" stroke-width="1"/>
<line x1="29.5" y1="713.5" x2="32.5" y2="713.5" stroke="#999999" stroke-width="1"/>
<line x1="29.5" y1="673.5" x2="32.5" y2="673.5" stroke="#999999" stroke-width="1"/>
<line x1="29.5" y1="633.5" x2="32.5" y2="633.5" stroke="#999999" stroke-width="1"/>
<line x1="29.5" y1="592.5" x2="32.5" y2="592.5" stroke="#999999" stroke-width="1"/>
<line x1="29.5" y1="552.5" x2="32.5" y2="552.5" stroke="#999999" stroke-width="1"/>
<line x1="31.0" y1="813.5" x2="32.5" y2="813.5" stroke="#999999" stroke-width="1"/>
<line x1="31.0" y1="773.5" x2="32.5" y2="773.5" stroke="#999999" stroke-width="1"/>
<line x1="31.0" y1="733.5" x2="32.5" y2="733.5" stroke="#999999" stroke-width="1"/>
<line x1="31.0" y1="693.5" x2="32.5" y2="693.5" stroke="#999999" stroke-width="1"/>
<line x1="31.0" y1="653.5" x2="32.5" y2="653.5" stroke="#999999" stroke-width="1"/>
<line x1="31.0" y1="613.5" x2="32.5" y2="613.5" stroke="#999999" stroke-width="1"/>
<line x1="31.0" y1="572.5" x2="32.5" y2="572.5" stroke="#999999" stroke-width="1"/>
<line x1="31.0" y1="533.5" x2="32.5" y2="533.5" stroke="#999999" stroke-width="1"/>
<text transform="translate(32.70,849) scale(1,1.2)" x="0" y="0" font-family="Liberation Sans" font-size="10" font-weight="normal" text-anchor="middle" fill="#353535">-5</text>
<text transform="translate(89.00,849) scale(1,1.2)" x="0" y="0" font-family="Liberation Sans" font-size="10" font-weight="normal" text-anchor="middle" fill="#353535">-4</text>
<text transform="translate(145.30,849) scale(1,1.2)" x="0" y="0" font-family="Liberation Sans" font-size="10" font-weight="normal" text-anchor="middle" fill="#353535">-3</text>
<text transform="translate(201.60,849) scale(1,1.2)" x="0" y="0" font-family="Liberation Sans" font-size="10" font-weight="normal" text-anchor="middle" fill="#353535">-2</text>
<text transform="translate(257.90,849) scale(1,1.2)" x="0" y="0" font-family="Liberation Sans" font-size="10" font-weight="normal" text-anchor="middle" fill="#353535">-1</text>
<text transform="translate(314.20,849) scale(1,1.2)" x="0" y="0" font-family="Liberation Sans" font-size="10" font-weight="normal" text-anchor="middle" fill="#353535">0</text>
<text transform="translate(370.50,849) scale(1,1.2)" x="0" y="0" font-family="Liberation Sans" font-size="10" font-weight="normal" text-anchor="middle" fill="#353535">1</text>
<text transform="translate(426.80,849) scale(1,1.2)" x="0" y="0" font-family="Liberation Sans" font-size="10" font-weight="normal" text-anchor="middle" fill="#353535">2</text>
<text transform="translate(483.10,849) scale(1,1.2)" x="0" y="0" font-family="Liberation Sans" font-size="10" font-weight="normal" text-anchor="middle" fill="#353535">3</text>
<text transform="translate(539.40,849) scale(1,1.2)" x="0" y="0" font-family="Liberation Sans" font-size="10" font-weight="normal" text-anchor="middle" fill="#353535">4</text>
<text transform="translate(28.7,837.80) scale(1,1.2)" x="0" y="0" font-family="Liberation Sans" font-size="10" font-weight="normal" text-anchor="end" fill="#353535">-20</text>
<text transform="translate(28.7,797.80) scale(1,1.2)" x="0" y="0" font-family="Liberation Sans" font-size="10" font-weight="normal" text-anchor="end" fill="#353535">-15</text>
<text transform="translate(28.7,757.80) scale(1,1.2)" x="0" y="0" font-family="Liberation Sans" font-size="10" font-weight="normal" text-anchor="end" fill="#353535">-10</text>
<text transform="translate(28.7,717.80) scale(1,1.2)" x="0" y="0" font-family="Liberation Sans" font-size="10" font-weight="normal" text-anchor="end" fill="#353535">-5</text>
<text transform="translate(28.7,677.80) scale(1,1.2)" x="0" y="0" font-family="Liberation Sans" font-size="10" font-weight="normal" text-anchor="end" fill="#353535">0</text>
<text transform="translate(28.7,637.80) scale(1,1.2)" x="0" y="0" font-family="Liberation Sans" font-size="10" font-weight="normal" text-anchor="end" fill="#353535">5</text>
<text transform="translate(28.7,596.80) scale(1,1.2)" x="0" y="0" font-family="Liberation Sans" font-size="10" font-weight="normal" text-anchor="end" fill="#353535">10</text>
<text transform="translate(28.7,556.80) scale(1,1.2)" x="0" y="0" font-family="Liberation Sans" font-size="10" font-weight="normal" text-anchor="end" fill="#353535">15</text>
<rect x="32.5" y="959" width="563.2" height="320.5" fill="#f6f6f6"/>
<line x1="103.5" y1="959" x2="103.5" y2="1279.5" stroke="#f0f0f0" stroke-width="1"/>
<line x1="173.5" y1="959" x2="173.5" y2="1279.5" stroke="#f0f0f0" stroke-width="1"/>
<line x1="244.5" y1="959" x2="244.5" y2="1279.5" stroke="#f0f0f0" stroke-width="1"/>
<line x1="384.5" y1="959" x2="384.5" y2="1279.5" stroke="#f0f0f0" stroke-width="1"/>
<line x1="455.5" y1="959" x2="455.5" y2="1279.5" stroke="#f0f0f0" stroke-width="1"/>
<line x1="525.5" y1="959" x2="525.5" y2="1279.5" stroke="#f0f0f0" stroke-width="1"/>
<line x1="32.5" y1="1239.5" x2="595.7" y2="1239.5" stroke="#ebebeb" stroke-width="1"/>
<line x1="32.5" y1="1199.5" x2="595.7" y2="1199.5" stroke="#ebebeb" stroke-width="1"/>
<line x1="32.5" y1="1159.5" x2="595.7" y2="1159.5" stroke="#ebebeb" stroke-width="1"/>
<line x1="32.5" y1="1079.5" x2="595.7" y2="1079.5" stroke="#ebebeb" stroke-width="1"/>
<line x1="32.5" y1="1038.5" x2="595.7" y2="1038.5" stroke="#ebebeb" stroke-width="1"/>
<line x1="32.5" y1="998.5" x2="595.7" y2="998.5" stroke="#ebebeb" stroke-width="1"/>
<clipPath id="cC"><ellipse cx="314.25" cy="1119" rx="217.75" ry="131.5"/></clipPath>
<ellipse cx="314.25" cy="1119" rx="217.75" ry="131.5" fill="#fff"/>
<g clip-path="url(#cC)">
<line x1="103.5" y1="959" x2="103.5" y2="1279.5" stroke="#f7f7f7" stroke-width="1"/>
<line x1="173.5" y1="959" x2="173.5" y2="1279.5" stroke="#f7f7f7" stroke-width="1"/>
<line x1="244.5" y1="959" x2="244.5" y2="1279.5" stroke="#f7f7f7" stroke-width="1"/>
<line x1="384.5" y1="959" x2="384.5" y2="1279.5" stroke="#f7f7f7" stroke-width="1"/>
<line x1="455.5" y1="959" x2="455.5" y2="1279.5" stroke="#f7f7f7" stroke-width="1"/>
<line x1="525.5" y1="959" x2="525.5" y2="1279.5" stroke="#f7f7f7" stroke-width="1"/>
<line x1="32.5" y1="1239.5" x2="595.7" y2="1239.5" stroke="#f7f7f7" stroke-width="1"/>
<line x1="32.5" y1="1199.5" x2="595.7" y2="1199.5" stroke="#f7f7f7" stroke-width="1"/>
<line x1="32.5" y1="1159.5" x2="595.7" y2="1159.5" stroke="#f7f7f7" stroke-width="1"/>
<line x1="32.5" y1="1079.5" x2="595.7" y2="1079.5" stroke="#f7f7f7" stroke-width="1"/>
<line x1="32.5" y1="1038.5" x2="595.7" y2="1038.5" stroke="#f7f7f7" stroke-width="1"/>
<line x1="32.5" y1="998.5" x2="595.7" y2="998.5" stroke="#f7f7f7" stroke-width="1"/>
</g>
<ellipse cx="314.25" cy="1119" rx="217.75" ry="131.5" fill="none" stroke="#c8c8c8" stroke-width="0.9"/>
<line x1="314.5" y1="959" x2="314.5" y2="1279.5" stroke="#bcbcbc" stroke-width="1"/>
<line x1="32.5" y1="1119.5" x2="595.7" y2="1119.5" stroke="#bcbcbc" stroke-width="1"/>
<ellipse cx="211.2" cy="1027.2" rx="7.3" ry="9.4" fill="#40ff00" stroke="#4a4a4a" stroke-width="0.5"/>
<ellipse cx="188.2" cy="1039.9" rx="7.3" ry="9.4" fill="#40ff00" stroke="#4a4a4a" stroke-width="0.5"/>
<ellipse cx="186.9" cy="1036" rx="7.3" ry="9.4" fill="#40ff00" stroke="#4a4a4a" stroke-width="0.5"/>
<ellipse cx="269.2" cy="1034.9" rx="7.3" ry="9.4" fill="#40ff00" stroke="#4a4a4a" stroke-width="0.5"/>
<ellipse cx="242.9" cy="1053.9" rx="7.3" ry="9.4" fill="#40ff00" stroke="#4a4a4a" stroke-width="0.5"/>
<ellipse cx="229.1" cy="1056.8" rx="7.3" ry="9.4" fill="#40ff00" stroke="#4a4a4a" stroke-width="0.5"/>
<ellipse cx="217.1" cy="1061.8" rx="7.3" ry="9.4" fill="#40ff00" stroke="#4a4a4a" stroke-width="0.5"/>
<ellipse cx="271.8" cy="1059.6" rx="7.3" ry="9.4" fill="#40ff00" stroke="#4a4a4a" stroke-width="0.5"/>
<ellipse cx="196.3" cy="1075.4" rx="7.3" ry="9.4" fill="#40ff00" stroke="#4a4a4a" stroke-width="0.5"/>
<ellipse cx="228" cy="1078" rx="7.3" ry="9.4" fill="#40ff00" stroke="#4a4a4a" stroke-width="0.5"/>
<ellipse cx="254.3" cy="1091.8" rx="7.3" ry="9.4" fill="#40ff00" stroke="#4a4a4a" stroke-width="0.5"/>
<ellipse cx="260.4" cy="1081.5" rx="7.3" ry="9.4" fill="#40ff00" stroke="#4a4a4a" stroke-width="0.5"/>
<ellipse cx="210.9" cy="1089" rx="7.3" ry="9.4" fill="#40ff00" stroke="#4a4a4a" stroke-width="0.5"/>
<ellipse cx="223.6" cy="1088.5" rx="7.3" ry="9.4" fill="#40ff00" stroke="#4a4a4a" stroke-width="0.5"/>
<ellipse cx="225.2" cy="1101.7" rx="7.3" ry="9.4" fill="#40ff00" stroke="#4a4a4a" stroke-width="0.5"/>
<ellipse cx="287.8" cy="1100.6" rx="7.3" ry="9.4" fill="#40ff00" stroke="#4a4a4a" stroke-width="0.5"/>
<ellipse cx="238.3" cy="1109.3" rx="7.3" ry="9.4" fill="#40ff00" stroke="#4a4a4a" stroke-width="0.5"/>
<ellipse cx="253.9" cy="1107.1" rx="7.3" ry="9.4" fill="#40ff00" stroke="#4a4a4a" stroke-width="0.5"/>
<ellipse cx="193.6" cy="1119.8" rx="7.3" ry="9.4" fill="#40ff00" stroke="#4a4a4a" stroke-width="0.5"/>
<ellipse cx="243.4" cy="1130.1" rx="7.3" ry="9.4" fill="#40ff00" stroke="#4a4a4a" stroke-width="0.5"/>
<ellipse cx="242.3" cy="1127.5" rx="7.3" ry="9.4" fill="#40ff00" stroke="#4a4a4a" stroke-width="0.5"/>
<ellipse cx="230.2" cy="1138.5" rx="7.3" ry="9.4" fill="#40ff00" stroke="#4a4a4a" stroke-width="0.5"/>
<ellipse cx="189.3" cy="1153.1" rx="7.3" ry="9.4" fill="#40ff00" stroke="#4a4a4a" stroke-width="0.5"/>
<ellipse cx="185.3" cy="1143.9" rx="7.3" ry="9.4" fill="#40ff00" stroke="#4a4a4a" stroke-width="0.5"/>
<ellipse cx="240.1" cy="1156.4" rx="7.3" ry="9.4" fill="#40ff00" stroke="#4a4a4a" stroke-width="0.5"/>
<ellipse cx="230.9" cy="1153.1" rx="7.3" ry="9.4" fill="#40ff00" stroke="#4a4a4a" stroke-width="0.5"/>
<ellipse cx="286.5" cy="1154.7" rx="7.3" ry="9.4" fill="#40ff00" stroke="#4a4a4a" stroke-width="0.5"/>
<ellipse cx="222.6" cy="1170.4" rx="7.3" ry="9.4" fill="#40ff00" stroke="#4a4a4a" stroke-width="0.5"/>
<ellipse cx="255.4" cy="1182.8" rx="7.3" ry="9.4" fill="#40ff00" stroke="#4a4a4a" stroke-width="0.5"/>
<ellipse cx="252.1" cy="1171.9" rx="7.3" ry="9.4" fill="#40ff00" stroke="#4a4a4a" stroke-width="0.5"/>
<ellipse cx="236.3" cy="1182.8" rx="7.3" ry="9.4" fill="#40ff00" stroke="#4a4a4a" stroke-width="0.5"/>
<ellipse cx="310.6" cy="1181.1" rx="7.3" ry="9.4" fill="#40ff00" stroke="#4a4a4a" stroke-width="0.5"/>
<ellipse cx="213.1" cy="1187.7" rx="7.3" ry="9.4" fill="#40ff00" stroke="#4a4a4a" stroke-width="0.5"/>
<ellipse cx="209" cy="1204.3" rx="7.3" ry="9.4" fill="#40ff00" stroke="#4a4a4a" stroke-width="0.5"/>
<ellipse cx="222.6" cy="1213.9" rx="7.3" ry="9.4" fill="#40ff00" stroke="#4a4a4a" stroke-width="0.5"/>
<ellipse cx="249.9" cy="1206.5" rx="7.3" ry="9.4" fill="#40ff00" stroke="#4a4a4a" stroke-width="0.5"/>
<rect x="425.00" y="991.80" width="14.0" height="18.2" fill="#1c00ff" stroke="#2a2090" stroke-width="0.6"/>
<rect x="383.80" y="1025.00" width="14.0" height="18.2" fill="#1c00ff" stroke="#2a2090" stroke-width="0.6"/>
<rect x="412.30" y="1040.40" width="14.0" height="18.2" fill="#1c00ff" stroke="#2a2090" stroke-width="0.6"/>
<rect x="397.40" y="1062.40" width="14.0" height="18.2" fill="#1c00ff" stroke="#2a2090" stroke-width="0.6"/>
<rect x="399.60" y="1052.20" width="14.0" height="18.2" fill="#1c00ff" stroke="#2a2090" stroke-width="0.6"/>
<rect x="338.80" y="1055.60" width="14.0" height="18.2" fill="#1c00ff" stroke="#2a2090" stroke-width="0.6"/>
<rect x="347.60" y="1072.50" width="14.0" height="18.2" fill="#1c00ff" stroke="#2a2090" stroke-width="0.6"/>
<rect x="355.50" y="1062.40" width="14.0" height="18.2" fill="#1c00ff" stroke="#2a2090" stroke-width="0.6"/>
<rect x="379.30" y="1066.40" width="14.0" height="18.2" fill="#1c00ff" stroke="#2a2090" stroke-width="0.6"/>
<rect x="374.30" y="1059.00" width="14.0" height="18.2" fill="#1c00ff" stroke="#2a2090" stroke-width="0.6"/>
<rect x="324.30" y="1080.50" width="14.0" height="18.2" fill="#1c00ff" stroke="#2a2090" stroke-width="0.6"/>
<rect x="436.50" y="1086.10" width="14.0" height="18.2" fill="#1c00ff" stroke="#2a2090" stroke-width="0.6"/>
<rect x="427.90" y="1079.30" width="14.0" height="18.2" fill="#1c00ff" stroke="#2a2090" stroke-width="0.6"/>
<rect x="421.10" y="1069.20" width="14.0" height="18.2" fill="#1c00ff" stroke="#2a2090" stroke-width="0.6"/>
<rect x="406.40" y="1095.20" width="14.0" height="18.2" fill="#1c00ff" stroke="#2a2090" stroke-width="0.6"/>
<rect x="401.50" y="1085.00" width="14.0" height="18.2" fill="#1c00ff" stroke="#2a2090" stroke-width="0.6"/>
<rect x="378.80" y="1103.10" width="14.0" height="18.2" fill="#1c00ff" stroke="#2a2090" stroke-width="0.6"/>
<rect x="356.40" y="1109.90" width="14.0" height="18.2" fill="#1c00ff" stroke="#2a2090" stroke-width="0.6"/>
<rect x="443.80" y="1109.40" width="14.0" height="18.2" fill="#1c00ff" stroke="#2a2090" stroke-width="0.6"/>
<rect x="392.90" y="1122.30" width="14.0" height="18.2" fill="#1c00ff" stroke="#2a2090" stroke-width="0.6"/>
<rect x="404.60" y="1123.50" width="14.0" height="18.2" fill="#1c00ff" stroke="#2a2090" stroke-width="0.6"/>
<rect x="381.10" y="1136.60" width="14.0" height="18.2" fill="#1c00ff" stroke="#2a2090" stroke-width="0.6"/>
<rect x="388.30" y="1141.60" width="14.0" height="18.2" fill="#1c00ff" stroke="#2a2090" stroke-width="0.6"/>
<rect x="398.50" y="1140.40" width="14.0" height="18.2" fill="#1c00ff" stroke="#2a2090" stroke-width="0.6"/>
<rect x="401.90" y="1154.00" width="14.0" height="18.2" fill="#1c00ff" stroke="#2a2090" stroke-width="0.6"/>
<rect x="405.80" y="1149.50" width="14.0" height="18.2" fill="#1c00ff" stroke="#2a2090" stroke-width="0.6"/>
<rect x="382.20" y="1153.30" width="14.0" height="18.2" fill="#1c00ff" stroke="#2a2090" stroke-width="0.6"/>
<rect x="425.70" y="1152.40" width="14.0" height="18.2" fill="#1c00ff" stroke="#2a2090" stroke-width="0.6"/>
<rect x="363.40" y="1161.50" width="14.0" height="18.2" fill="#1c00ff" stroke="#2a2090" stroke-width="0.6"/>
<rect x="369.60" y="1178.20" width="14.0" height="18.2" fill="#1c00ff" stroke="#2a2090" stroke-width="0.6"/>
<rect x="346.00" y="1187.30" width="14.0" height="18.2" fill="#1c00ff" stroke="#2a2090" stroke-width="0.6"/>
<rect x="354.40" y="1183.40" width="14.0" height="18.2" fill="#1c00ff" stroke="#2a2090" stroke-width="0.6"/>
<rect x="392.20" y="1189.10" width="14.0" height="18.2" fill="#1c00ff" stroke="#2a2090" stroke-width="0.6"/>
<line x1="32.5" y1="1279.5" x2="591.7" y2="1279.5" stroke="#d8d8d8" stroke-width="1"/>
<path d="M595.7,1279.5 L590.2,1277.7 L590.2,1281.3 Z" fill="#8c8c8c"/>
<line x1="32.5" y1="1279.5" x2="32.5" y2="963" stroke="#d8d8d8" stroke-width="1"/>
<path d="M32.5,959 L30.7,964.5 L34.3,964.5 Z" fill="#8c8c8c"/>
<line x1="33.5" y1="1279.5" x2="33.5" y2="1282.0" stroke="#999999" stroke-width="1"/>
<line x1="103.5" y1="1279.5" x2="103.5" y2="1282.0" stroke="#999999" stroke-width="1"/>
<line x1="173.5" y1="1279.5" x2="173.5" y2="1282.0" stroke="#999999" stroke-width="1"/>
<line x1="244.5" y1="1279.5" x2="244.5" y2="1282.0" stroke="#999999" stroke-width="1"/>
<line x1="314.5" y1="1279.5" x2="314.5" y2="1282.0" stroke="#999999" stroke-width="1"/>
<line x1="384.5" y1="1279.5" x2="384.5" y2="1282.0" stroke="#999999" stroke-width="1"/>
<line x1="455.5" y1="1279.5" x2="455.5" y2="1282.0" stroke="#999999" stroke-width="1"/>
<line x1="525.5" y1="1279.5" x2="525.5" y2="1282.0" stroke="#999999" stroke-width="1"/>
<line x1="68.5" y1="1279.5" x2="68.5" y2="1281.0" stroke="#999999" stroke-width="1"/>
<line x1="138.5" y1="1279.5" x2="138.5" y2="1281.0" stroke="#999999" stroke-width="1"/>
<line x1="208.5" y1="1279.5" x2="208.5" y2="1281.0" stroke="#999999" stroke-width="1"/>
<line x1="279.5" y1="1279.5" x2="279.5" y2="1281.0" stroke="#999999" stroke-width="1"/>
<line x1="349.5" y1="1279.5" x2="349.5" y2="1281.0" stroke="#999999" stroke-width="1"/>
<line x1="419.5" y1="1279.5" x2="419.5" y2="1281.0" stroke="#999999" stroke-width="1"/>
<line x1="490.5" y1="1279.5" x2="490.5" y2="1281.0" stroke="#999999" stroke-width="1"/>
<line x1="560.5" y1="1279.5" x2="560.5" y2="1281.0" stroke="#999999" stroke-width="1"/>
<line x1="29.5" y1="1279.5" x2="32.5" y2="1279.5" stroke="#999999" stroke-width="1"/>
<line x1="29.5" y1="1239.5" x2="32.5" y2="1239.5" stroke="#999999" stroke-width="1"/>
<line x1="29.5" y1="1199.5" x2="32.5" y2="1199.5" stroke="#999999" stroke-width="1"/>
<line x1="29.5" y1="1159.5" x2="32.5" y2="1159.5" stroke="#999999" stroke-width="1"/>
<line x1="29.5" y1="1119.5" x2="32.5" y2="1119.5" stroke="#999999" stroke-width="1"/>
<line x1="29.5" y1="1079.5" x2="32.5" y2="1079.5" stroke="#999999" stroke-width="1"/>
<line x1="29.5" y1="1038.5" x2="32.5" y2="1038.5" stroke="#999999" stroke-width="1"/>
<line x1="29.5" y1="998.5" x2="32.5" y2="998.5" stroke="#999999" stroke-width="1"/>
<line x1="31.0" y1="1259.5" x2="32.5" y2="1259.5" stroke="#999999" stroke-width="1"/>
<line x1="31.0" y1="1219.5" x2="32.5" y2="1219.5" stroke="#999999" stroke-width="1"/>
<line x1="31.0" y1="1179.5" x2="32.5" y2="1179.5" stroke="#999999" stroke-width="1"/>
<line x1="31.0" y1="1139.5" x2="32.5" y2="1139.5" stroke="#999999" stroke-width="1"/>
<line x1="31.0" y1="1099.5" x2="32.5" y2="1099.5" stroke="#999999" stroke-width="1"/>
<line x1="31.0" y1="1059.5" x2="32.5" y2="1059.5" stroke="#999999" stroke-width="1"/>
<line x1="31.0" y1="1018.5" x2="32.5" y2="1018.5" stroke="#999999" stroke-width="1"/>
<line x1="31.0" y1="979.5" x2="32.5" y2="979.5" stroke="#999999" stroke-width="1"/>
<text transform="translate(33.00,1295) scale(1,1.2)" x="0" y="0" font-family="Liberation Sans" font-size="10" font-weight="normal" text-anchor="middle" fill="#353535">-4</text>
<text transform="translate(103.35,1295) scale(1,1.2)" x="0" y="0" font-family="Liberation Sans" font-size="10" font-weight="normal" text-anchor="middle" fill="#353535">-3</text>
<text transform="translate(173.70,1295) scale(1,1.2)" x="0" y="0" font-family="Liberation Sans" font-size="10" font-weight="normal" text-anchor="middle" fill="#353535">-2</text>
<text transform="translate(244.05,1295) scale(1,1.2)" x="0" y="0" font-family="Liberation Sans" font-size="10" font-weight="normal" text-anchor="middle" fill="#353535">-1</text>
<text transform="translate(314.40,1295) scale(1,1.2)" x="0" y="0" font-family="Liberation Sans" font-size="10" font-weight="normal" text-anchor="middle" fill="#353535">0</text>
<text transform="translate(384.75,1295) scale(1,1.2)" x="0" y="0" font-family="Liberation Sans" font-size="10" font-weight="normal" text-anchor="middle" fill="#353535">1</text>
<text transform="translate(455.10,1295) scale(1,1.2)" x="0" y="0" font-family="Liberation Sans" font-size="10" font-weight="normal" text-anchor="middle" fill="#353535">2</text>
<text transform="translate(525.45,1295) scale(1,1.2)" x="0" y="0" font-family="Liberation Sans" font-size="10" font-weight="normal" text-anchor="middle" fill="#353535">3</text>
<text transform="translate(28.7,1283.80) scale(1,1.2)" x="0" y="0" font-family="Liberation Sans" font-size="10" font-weight="normal" text-anchor="end" fill="#353535">-20</text>
<text transform="translate(28.7,1243.80) scale(1,1.2)" x="0" y="0" font-family="Liberation Sans" font-size="10" font-weight="normal" text-anchor="end" fill="#353535">-15</text>
<text transform="translate(28.7,1203.80) scale(1,1.2)" x="0" y="0" font-family="Liberation Sans" font-size="10" font-weight="normal" text-anchor="end" fill="#353535">-10</text>
<text transform="translate(28.7,1163.80) scale(1,1.2)" x="0" y="0" font-family="Liberation Sans" font-size="10" font-weight="normal" text-anchor="end" fill="#353535">-5</text>
<text transform="translate(28.7,1123.80) scale(1,1.2)" x="0" y="0" font-family="Liberation Sans" font-size="10" font-weight="normal" text-anchor="end" fill="#353535">0</text>
<text transform="translate(28.7,1083.80) scale(1,1.2)" x="0" y="0" font-family="Liberation Sans" font-size="10" font-weight="normal" text-anchor="end" fill="#353535">5</text>
<text transform="translate(28.7,1042.80) scale(1,1.2)" x="0" y="0" font-family="Liberation Sans" font-size="10" font-weight="normal" text-anchor="end" fill="#353535">10</text>
<text transform="translate(28.7,1002.80) scale(1,1.2)" x="0" y="0" font-family="Liberation Sans" font-size="10" font-weight="normal" text-anchor="end" fill="#353535">15</text>
<text x="225.3" y="17.8" font-family="Liberation Sans" font-size="14.5" font-weight="bold" text-anchor="start" fill="#111" textLength="140.2" lengthAdjust="spacingAndGlyphs" stroke="#111" stroke-width="0.3">DB_sivol.M4 (OPLS-DA)</text>
<text x="210.4" y="38.0" font-family="Liberation Sans" font-size="14.5" font-weight="bold" text-anchor="start" fill="#111" textLength="170.4" lengthAdjust="spacingAndGlyphs" stroke="#111" stroke-width="0.3">Scaled proportionally to R2X</text>
<text x="155.3" y="59.0" font-family="Liberation Sans" font-size="14.5" font-weight="bold" text-anchor="start" fill="#111" textLength="275" lengthAdjust="spacingAndGlyphs" stroke="#111" stroke-width="0.3">Colored according to Obs ID (Cooking method)</text>
<text x="232.3" y="463.0" font-family="Liberation Sans" font-size="14.5" font-weight="bold" text-anchor="start" fill="#111" textLength="126.6" lengthAdjust="spacingAndGlyphs" stroke="#111" stroke-width="0.3">DB_sivol.M6 (OPLS-DA)</text>
<text x="216.6" y="483.8" font-family="Liberation Sans" font-size="14.5" font-weight="bold" text-anchor="start" fill="#111" textLength="157.7" lengthAdjust="spacingAndGlyphs" stroke="#111" stroke-width="0.3">Scaled proportionally to R2X</text>
<text x="176.3" y="504.5" font-family="Liberation Sans" font-size="14.5" font-weight="bold" text-anchor="start" fill="#111" textLength="236.5" lengthAdjust="spacingAndGlyphs" stroke="#111" stroke-width="0.3">Colored according to Obs ID (Temperature)</text>
<text x="232.3" y="908.6" font-family="Liberation Sans" font-size="14.5" font-weight="bold" text-anchor="start" fill="#111" textLength="126.2" lengthAdjust="spacingAndGlyphs" stroke="#111" stroke-width="0.3">DB_sivol.M7 (OPLS-DA)</text>
<text x="216.6" y="929.6" font-family="Liberation Sans" font-size="14.5" font-weight="bold" text-anchor="start" fill="#111" textLength="157.7" lengthAdjust="spacingAndGlyphs" stroke="#111" stroke-width="0.3">Scaled proportionally to R2X</text>
<text x="200.4" y="950.2" font-family="Liberation Sans" font-size="14.5" font-weight="bold" text-anchor="start" fill="#111" textLength="188.3" lengthAdjust="spacingAndGlyphs" stroke="#111" stroke-width="0.3">Colored according to classes in M7</text>
<text x="12.4" y="18.6" font-family="Liberation Sans" font-size="23" font-weight="bold" text-anchor="start" fill="#000" textLength="15.2" lengthAdjust="spacingAndGlyphs" stroke="#000" stroke-width="0.45">A</text>
<text x="12.7" y="464.4" font-family="Liberation Sans" font-size="23" font-weight="bold" text-anchor="start" fill="#000" textLength="12.6" lengthAdjust="spacingAndGlyphs" stroke="#000" stroke-width="0.45">B</text>
<text x="12.7" y="910.0" font-family="Liberation Sans" font-size="23" font-weight="bold" text-anchor="start" fill="#000" textLength="13.4" lengthAdjust="spacingAndGlyphs" stroke="#000" stroke-width="0.45">C</text>
<text transform="translate(312.6,420.6) scale(1,1.1)" x="0" y="0" font-family="Liberation Sans" font-size="10.5" font-weight="normal" text-anchor="middle" fill="#353535" textLength="54.5" lengthAdjust="spacingAndGlyphs">1.0015 * t[1]</text>
<text transform="translate(314,867.2) scale(1,1.1)" x="0" y="0" font-family="Liberation Sans" font-size="10.5" font-weight="normal" text-anchor="middle" fill="#353535" textLength="57" lengthAdjust="spacingAndGlyphs">1.00083 * t[1]</text>
<text transform="translate(314,1312.5) scale(1,1.1)" x="0" y="0" font-family="Liberation Sans" font-size="10.5" font-weight="normal" text-anchor="middle" fill="#353535" textLength="57" lengthAdjust="spacingAndGlyphs">1.00822 * t[1]</text>
<text transform="translate(7.4,227.3) rotate(-90)" x="0" y="0" font-family="Liberation Sans" font-size="11" text-anchor="middle" fill="#353535" textLength="63.7" lengthAdjust="spacingAndGlyphs" dy="4">1.0183 * t[2]</text>
<text transform="translate(7.0,673.4) rotate(-90)" x="0" y="0" font-family="Liberation Sans" font-size="11" text-anchor="middle" fill="#353535" textLength="77.3" lengthAdjust="spacingAndGlyphs" dy="4">1.17206 * to[1]</text>
<text transform="translate(7.0,1119.4) rotate(-90)" x="0" y="0" font-family="Liberation Sans" font-size="11" text-anchor="middle" fill="#353535" textLength="77.3" lengthAdjust="spacingAndGlyphs" dy="4">1.14056 * to[1]</text>
<text transform="translate(12.6,436.9) scale(1,1.03)" x="0" y="0" font-family="Liberation Mono" font-size="11" font-weight="normal" text-anchor="start" fill="#353535" textLength="90.5" lengthAdjust="spacingAndGlyphs">R2X[1] = 0.112</text>
<text transform="translate(203.7,436.9) scale(1,1.03)" x="0" y="0" font-family="Liberation Mono" font-size="11" font-weight="normal" text-anchor="start" fill="#353535" textLength="96" lengthAdjust="spacingAndGlyphs">R2X[2] = 0.0327</text>
<text transform="translate(396.4,437.2) scale(1,1.03)" x="0" y="0" font-family="Liberation Mono" font-size="11" font-weight="normal" text-anchor="start" fill="#353535" textLength="186.5" lengthAdjust="spacingAndGlyphs">Ellipse: Hotelling's T2 (95%)</text>
<text transform="translate(33.3,882.5) scale(1,1.15)" x="0" y="0" font-family="Liberation Mono" font-size="10.2" font-weight="normal" text-anchor="start" fill="#353535" textLength="83.5" lengthAdjust="spacingAndGlyphs">R2X[1] = 0.036</text>
<text transform="translate(211,882.5) scale(1,1.15)" x="0" y="0" font-family="Liberation Mono" font-size="10.2" font-weight="normal" text-anchor="start" fill="#353535" textLength="155" lengthAdjust="spacingAndGlyphs">R2X[XSide Comp. 1] = 0.428</text>
<text transform="translate(388.6,882.5) scale(1,1.15)" x="0" y="0" font-family="Liberation Mono" font-size="10.2" font-weight="normal" text-anchor="start" fill="#353535" textLength="171" lengthAdjust="spacingAndGlyphs">Ellipse: Hotelling's T2 (95%)</text>
<text transform="translate(33.3,1327.5) scale(1,1.15)" x="0" y="0" font-family="Liberation Mono" font-size="10.2" font-weight="normal" text-anchor="start" fill="#353535" textLength="83.5" lengthAdjust="spacingAndGlyphs">R2X[1] = 0.015</text>
<text transform="translate(211,1327.5) scale(1,1.15)" x="0" y="0" font-family="Liberation Mono" font-size="10.2" font-weight="normal" text-anchor="start" fill="#353535" textLength="155" lengthAdjust="spacingAndGlyphs">R2X[XSide Comp. 1] = 0.425</text>
<text transform="translate(388.6,1327.5) scale(1,1.15)" x="0" y="0" font-family="Liberation Mono" font-size="10.2" font-weight="normal" text-anchor="start" fill="#353535" textLength="171" lengthAdjust="spacingAndGlyphs">Ellipse: Hotelling's T2 (95%)</text>
<text x="610.6" y="443" font-family="Liberation Sans" font-size="3.4" font-weight="normal" text-anchor="start" fill="#d6d6d6" textLength="68.6" lengthAdjust="spacingAndGlyphs">SIMCA 15.0 - 12/19/2022 11:31:12 AM (UTC+1)</text>
<text x="564.5" y="888" font-family="Liberation Sans" font-size="3.4" font-weight="normal" text-anchor="start" fill="#d6d6d6" textLength="65" lengthAdjust="spacingAndGlyphs">SIMCA 15.0 - 12/19/2022 11:35:28 AM (UTC+1)</text>
<text x="564.5" y="1334" font-family="Liberation Sans" font-size="3.4" font-weight="normal" text-anchor="start" fill="#d6d6d6" textLength="65" lengthAdjust="spacingAndGlyphs">SIMCA 15.0 - 12/19/2022 11:38:57 AM (UTC+1)</text>
<text x="611" y="443" font-family="Liberation Sans" font-size="3" font-weight="normal" text-anchor="start" fill="#ccc"></text>
<ellipse cx="603.7" cy="11.3" rx="6.9" ry="8.0" fill="#40ff00" stroke="#4a4a4a" stroke-width="0.5"/>
<rect x="597.1" y="22.9" width="13.8" height="15.8" fill="#1c00ff" stroke="#2a2090" stroke-width="0.5"/>
<path d="M603.6,41.9 L609.8000000000001,54.1 L597.4,54.1 Z" fill="#ba1b10" stroke="#70120c" stroke-width="0.5"/>
<text transform="translate(614.2,15.3) scale(1,1.1)" x="0" y="0" font-family="Liberation Sans" font-size="11.2" font-weight="normal" text-anchor="start" fill="#222" textLength="54.7" lengthAdjust="spacingAndGlyphs">Pan-frying</text>
<text transform="translate(614.2,34.6) scale(1,1.1)" x="0" y="0" font-family="Liberation Sans" font-size="11.2" font-weight="normal" text-anchor="start" fill="#222" textLength="31.6" lengthAdjust="spacingAndGlyphs">Roner</text>
<text transform="translate(614.5,53.4) scale(1,1.1)" x="0" y="0" font-family="Liberation Sans" font-size="11.2" font-weight="normal" text-anchor="start" fill="#222" textLength="62.0" lengthAdjust="spacingAndGlyphs">Thermomix</text>
<text x="646.5" y="31.8" font-family="Liberation Sans" font-size="7.2" font-weight="bold" text-anchor="start" fill="#222">®</text>
<text x="677.1" y="50.6" font-family="Liberation Sans" font-size="7.2" font-weight="bold" text-anchor="start" fill="#222">®</text>
<ellipse cx="602.4" cy="457" rx="6.0" ry="8.1" fill="#40ff00" stroke="#4a4a4a" stroke-width="0.5"/>
<rect x="596.35" y="468.5" width="11.7" height="16" fill="#1c00ff" stroke="#2a2090" stroke-width="0.5"/>
<text transform="translate(614.2,462.8) scale(1,1.1)" x="0" y="0" font-family="Liberation Sans" font-size="11.5" font-weight="normal" text-anchor="start" fill="#222" textLength="28" lengthAdjust="spacingAndGlyphs">70 °C</text>
<text transform="translate(614.2,481.8) scale(1,1.1)" x="0" y="0" font-family="Liberation Sans" font-size="11.5" font-weight="normal" text-anchor="start" fill="#222" textLength="28" lengthAdjust="spacingAndGlyphs">90 °C</text>
<ellipse cx="602.9" cy="902.8" rx="6.5" ry="8.2" fill="#40ff00" stroke="#4a4a4a" stroke-width="0.5"/>
<rect x="596.4499999999999" y="914.3" width="12.9" height="16" fill="#1c00ff" stroke="#2a2090" stroke-width="0.5"/>
<text transform="translate(614.2,909.2) scale(1,1.1)" x="0" y="0" font-family="Liberation Sans" font-size="11.5" font-weight="normal" text-anchor="start" fill="#222" textLength="36.2" lengthAdjust="spacingAndGlyphs">15 min</text>
<text transform="translate(614.2,927.8) scale(1,1.1)" x="0" y="0" font-family="Liberation Sans" font-size="11.5" font-weight="normal" text-anchor="start" fill="#222" textLength="36.2" lengthAdjust="spacingAndGlyphs">30 min</text>
</svg>
</body></html>
